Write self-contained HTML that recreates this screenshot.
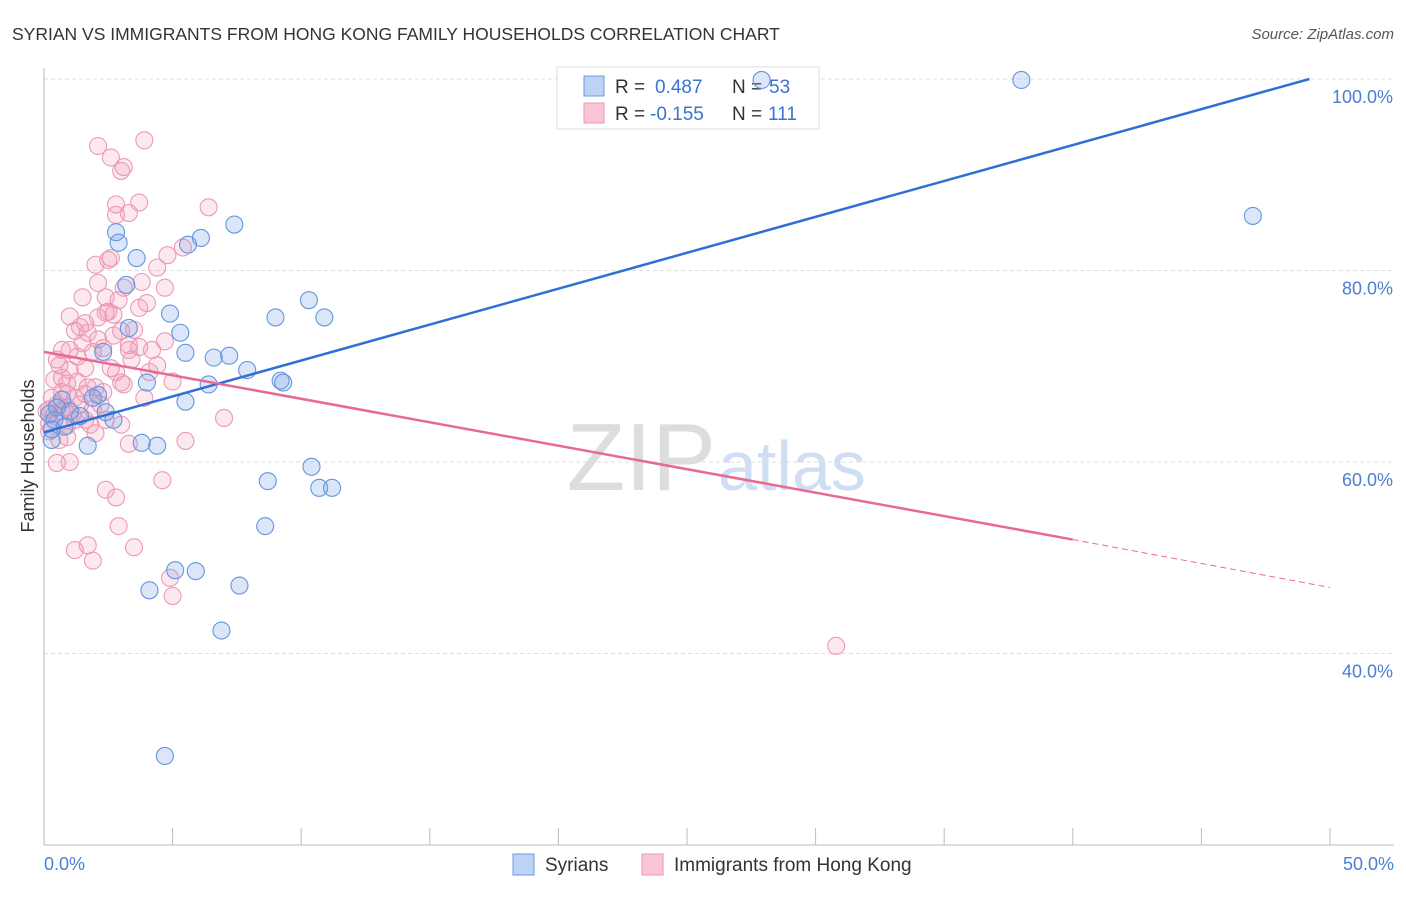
<!DOCTYPE html>
<html><head><meta charset="utf-8"><style>
body{margin:0;background:#fff;font-family:"Liberation Sans",sans-serif}
svg text{font-family:"Liberation Sans",sans-serif}
</style></head><body>
<svg id="c" width="1406" height="892" xmlns="http://www.w3.org/2000/svg">
<text x="12" y="40" font-size="17.5" fill="#333">SYRIAN VS IMMIGRANTS FROM HONG KONG FAMILY HOUSEHOLDS CORRELATION CHART</text>
<text x="1394" y="39" font-size="15" fill="#555" font-style="italic" text-anchor="end">Source: ZipAtlas.com</text>
<text x="716" y="490" font-size="96" font-family="Liberation Serif" fill="#ddd" text-anchor="end">ZIP</text>
<text x="718" y="490" font-size="70" fill="#d0def3">atlas</text>
<g id="grid"></g>
<g>
<rect x="557" y="67" width="262" height="62" fill="#fff" stroke="#ddd"/>
<rect x="584" y="76" width="20" height="20" fill="#bcd3f5" stroke="#6d9be0"/>
<rect x="584" y="103" width="20" height="20" fill="#f8c6d5" stroke="#ec97b3"/>
<text x="615" y="93" font-size="19" fill="#333">R =</text>
<text x="655" y="93" font-size="19" fill="#3a73d0">0.487</text>
<text x="732" y="93" font-size="19" fill="#333">N =</text>
<text x="769" y="93" font-size="19" fill="#3a73d0">53</text>
<text x="615" y="120" font-size="19" fill="#333">R =</text>
<text x="650" y="120" font-size="19" fill="#3a73d0">-0.155</text>
<text x="732" y="120" font-size="19" fill="#333">N =</text>
<text x="768" y="120" font-size="19" fill="#3a73d0">111</text>
</g>
<g id="pts"></g>
<g id="lines"></g>
<text transform="translate(34,456) rotate(-90)" font-size="18" fill="#333" text-anchor="middle">Family Households</text>
<g>
<rect x="513" y="854" width="21" height="21" fill="#bcd3f5" stroke="#6d9be0"/>
<text x="545" y="871" font-size="19" fill="#333">Syrians</text>
<rect x="642" y="854" width="21" height="21" fill="#f8c6d5" stroke="#ec97b3"/>
<text x="674" y="871" font-size="19" fill="#333">Immigrants from Hong Kong</text>
</g>
</svg>
<script>
const yTicks=[40,60,80,100];
const xTickLabels=["0.0%","50.0%"];
const blueX=[27.9,38.0,47.0,7.4,2.8,2.9,6.1,5.6,3.6,3.2,10.3,4.9,9.0,10.9,5.3,3.3,5.5,2.3,6.6,7.2,7.9,4.0,6.4,9.2,9.3,2.1,1.9,5.5,0.7,2.4,1.4,2.7,0.8,3.8,4.4,1.7,0.3,10.4,8.7,10.7,11.2,8.6,5.1,5.9,4.1,7.6,6.9,4.7,0.5,0.3,1.0,0.2,0.4];
const blueY=[99.9,99.9,85.7,84.8,84.0,82.9,83.4,82.7,81.3,78.5,76.9,75.5,75.1,75.1,73.5,74.0,71.4,71.5,70.9,71.1,69.6,68.3,68.1,68.5,68.3,67.0,66.7,66.3,66.5,65.2,64.8,64.4,63.7,62.0,61.7,61.7,62.3,59.5,58.0,57.3,57.3,53.3,48.7,48.6,46.6,47.1,42.4,29.3,65.7,63.4,65.3,65.0,64.4];
const pinkX=[3.9,2.1,2.6,3.1,3.0,3.7,6.4,2.8,2.8,3.3,4.4,4.8,5.4,2.6,2.5,2.0,3.1,3.8,4.7,2.1,1.5,2.4,2.5,1.0,4.0,2.7,1.6,2.4,1.4,1.2,1.7,2.1,3.0,3.5,1.0,1.9,0.5,1.3,2.3,3.3,3.7,4.2,4.7,4.4,2.8,1.0,0.7,3.0,2.0,5.0,0.7,1.2,3.1,0.5,0.2,0.9,1.4,2.2,0.1,0.4,0.7,1.1,1.6,1.8,0.2,0.6,0.9,3.0,0.5,1.0,7.0,5.5,3.3,4.6,2.4,2.8,2.9,3.5,1.2,1.7,1.9,4.9,5.0,30.8,0.7,0.6,0.9,1.7,2.6,2.3,0.2,0.3,1.3,2.1,2.9,3.3,1.5,1.2,1.9,0.9,4.1,3.4,2.7,1.6,3.9,2.0,0.4,0.9,1.6,2.4,3.7];
const pinkY=[93.6,93.0,91.8,90.8,90.4,87.1,86.6,86.9,85.8,86.0,80.3,81.6,82.4,81.3,81.1,80.6,78.2,78.8,78.2,78.7,77.2,77.2,75.7,75.2,76.6,75.4,74.5,75.6,74.1,73.7,73.5,72.8,73.7,73.8,71.7,71.5,70.7,71.0,71.9,71.7,72.0,71.7,72.6,70.1,69.4,69.6,68.8,68.3,67.8,68.4,67.3,66.7,68.1,66.0,65.5,65.7,66.0,66.0,65.3,65.0,65.3,65.0,64.4,63.9,63.2,62.3,62.6,63.9,59.9,60.0,64.6,62.2,61.9,58.1,57.1,56.3,53.3,51.1,50.8,51.3,49.7,47.9,46.0,40.8,71.7,70.1,68.2,67.8,69.8,67.3,64.0,66.7,68.4,75.1,76.9,72.2,72.4,64.4,65.5,63.8,69.4,70.7,73.2,69.8,66.7,63.0,68.6,67.1,67.1,64.4,76.1];
const blueLine=[0,63.1,49.2,100];
const pinkLine=[0,71.5,40,51.9,50,46.9];
const NS="http://www.w3.org/2000/svg";
const X=v=>44+v/50*1286, Y=v=>845-(v-20)/80*766;
function mk(p,t,a){const e=document.createElementNS(NS,t);for(const k in a)e.setAttribute(k,a[k]);p.appendChild(e);return e;}
const g=document.getElementById('grid');
yTicks.forEach(t=>{
 const l=mk(g,'line',{x1:44,x2:1394,y1:Y(t),y2:Y(t),stroke:'#ddd','stroke-dasharray':'4,3'});
 
 
 const tx=mk(g,'text',{x:1393,y:Y(t)+24,'font-size':18,fill:'#4a7fd4','text-anchor':'end'});tx.textContent=t+'.0%';
 
 
});
mk(g,'line',{x1:44,x2:44,y1:68,y2:845,stroke:'#bbb'});
mk(g,'line',{x1:44,x2:1394,y1:845,y2:845,stroke:'#bbb'});
for(let i=0;i<=10;i++){mk(g,'line',{x1:X(i*5),x2:X(i*5),y1:828,y2:845,stroke:'#bbb'});}
const xl0=mk(g,'text',{x:44,y:870,'font-size':18,fill:'#4a7fd4'});xl0.textContent=xTickLabels[0];


const xl1=mk(g,'text',{x:1394,y:870,'font-size':18,fill:'#4a7fd4','text-anchor':'end'});xl1.textContent=xTickLabels[1];


const p=document.getElementById('pts');
pinkX.forEach((v,i)=>{const c=mk(p,'circle',{cx:X(v),cy:Y(pinkY[i]),r:8.5,fill:'rgba(242,150,180,0.22)',stroke:'#ec9ab6','stroke-width':1.1});
 
 });
blueX.forEach((v,i)=>{const c=mk(p,'circle',{cx:X(v),cy:Y(blueY[i]),r:8.5,fill:'rgba(110,160,230,0.25)',stroke:'#6595de','stroke-width':1.1});
 
 });
const L=document.getElementById('lines');
const b=mk(L,'line',{x1:X(blueLine[0]),y1:Y(blueLine[1]),x2:X(blueLine[2]),y2:Y(blueLine[3]),stroke:'#2f6fd6','stroke-width':2.5});


const pk=mk(L,'line',{x1:X(pinkLine[0]),y1:Y(pinkLine[1]),x2:X(pinkLine[2]),y2:Y(pinkLine[3]),stroke:'#e76a95','stroke-width':2.5});


const pd=mk(L,'line',{x1:X(pinkLine[2]),y1:Y(pinkLine[3]),x2:X(pinkLine[4]),y2:Y(pinkLine[5]),stroke:'#e76a95','stroke-width':1,'stroke-dasharray':'6,4'});


</script>
</body></html>
